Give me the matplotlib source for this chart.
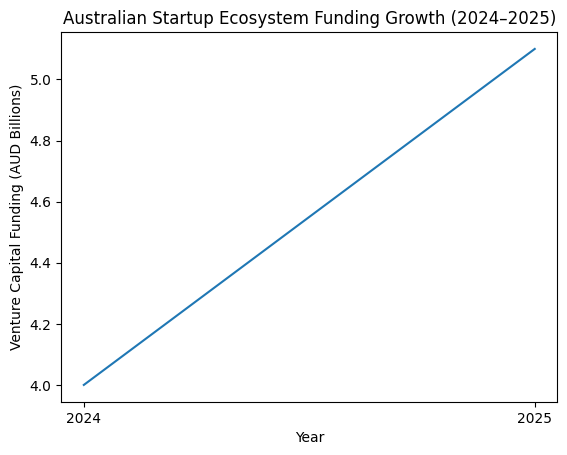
import matplotlib.pyplot as plt

years = [2024, 2025]
funding = [4.0, 5.1]

fig, ax = plt.subplots()
ax.plot(years, funding)
ax.set_xticks(years)
ax.set_xticklabels([str(y) for y in years])
ax.set_xlabel('Year')
ax.set_ylabel('Venture Capital Funding (AUD Billions)')
ax.set_title('Australian Startup Ecosystem Funding Growth (2024–2025)')
plt.savefig('out.png', bbox_inches='tight')
